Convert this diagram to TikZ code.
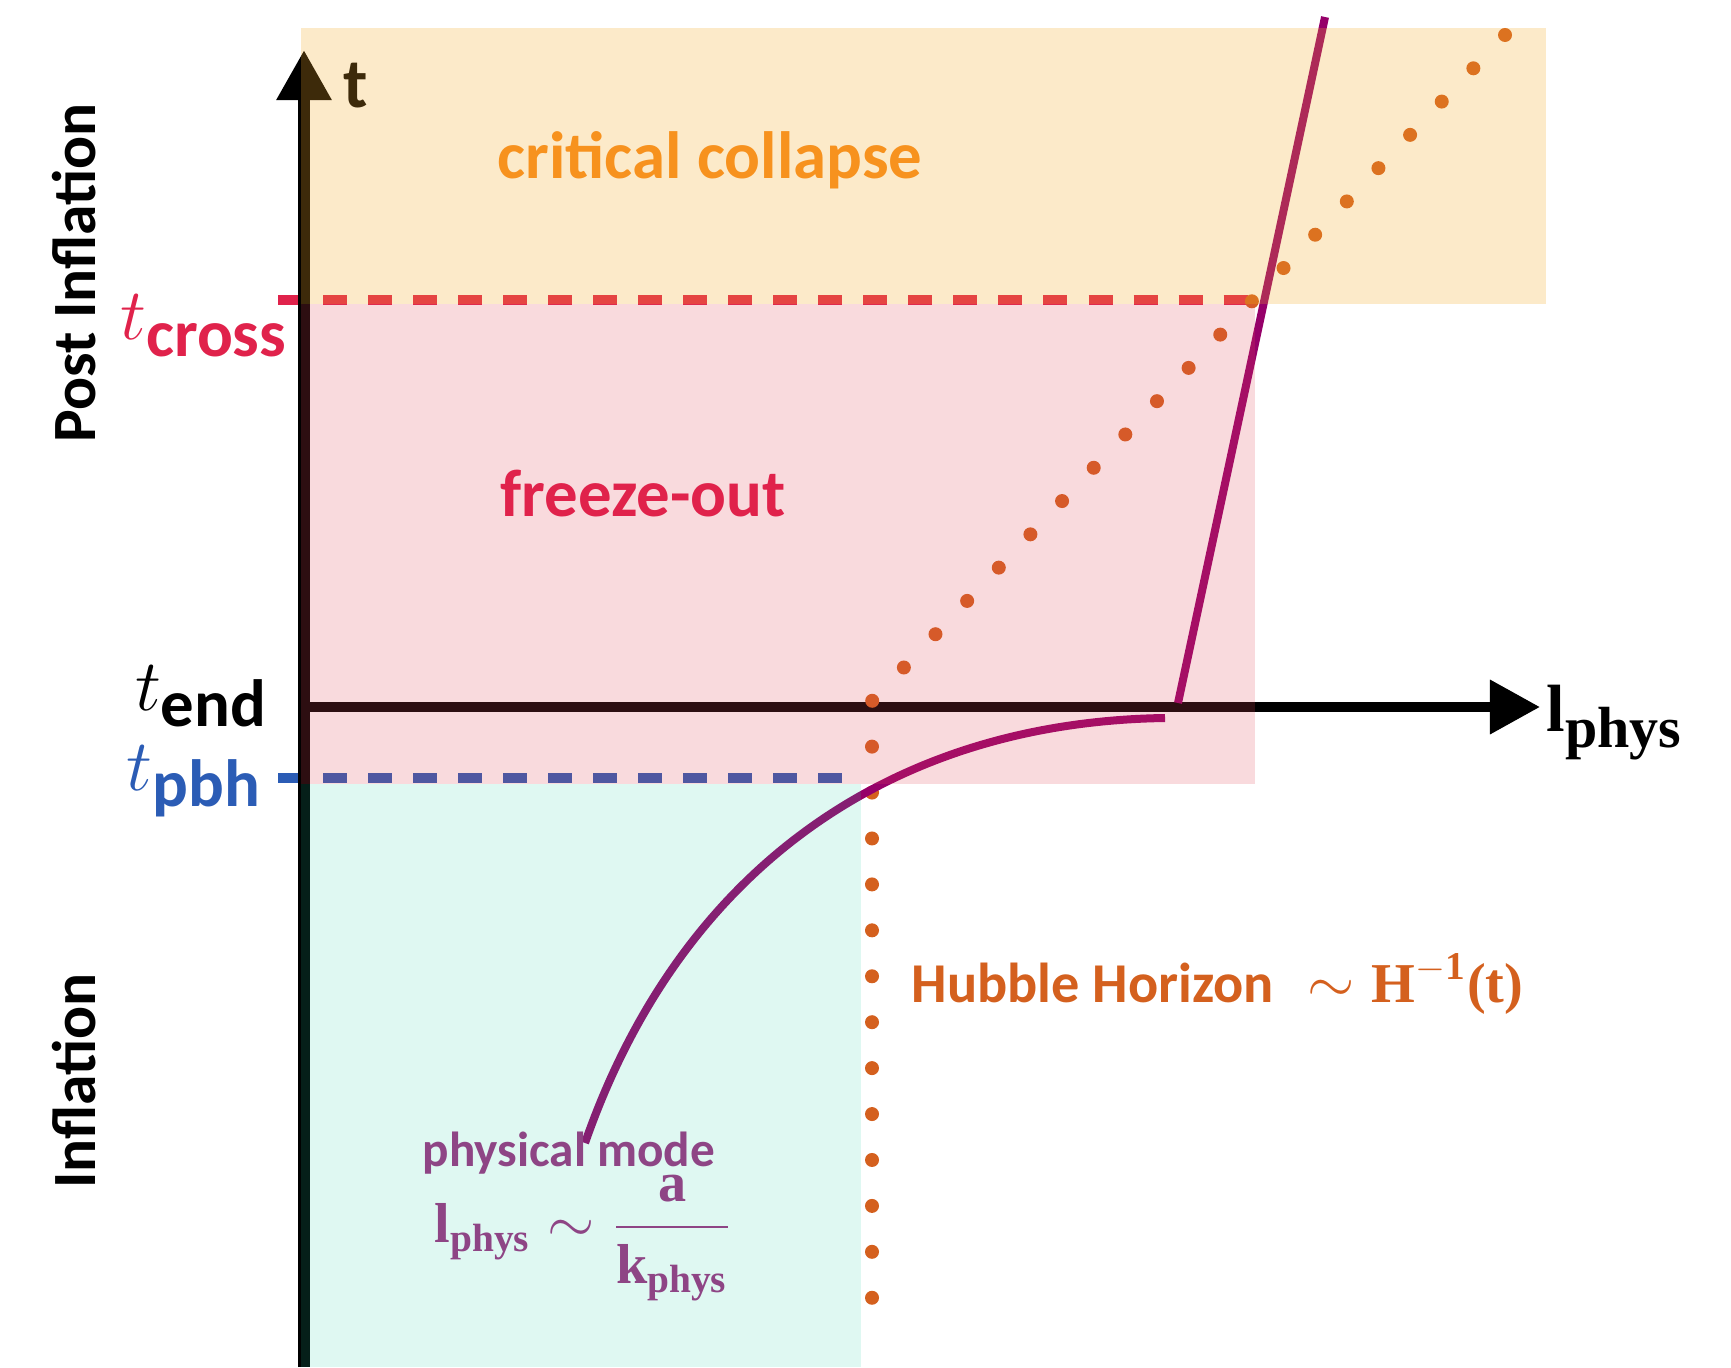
\documentclass[tikz,border=0pt]{standalone}
\usepackage{amsmath}
\usepackage{fontspec}
\setmainfont{Carlito}
\newfontfamily\tnr{Liberation Serif}
\usepackage{tikz}
\usetikzlibrary{arrows.meta}
\usepackage{xcolor}

\definecolor{collapseorange}{RGB}{247,146,30}
\definecolor{freezered}{RGB}{224,34,75}
\definecolor{pbhblue}{RGB}{43,92,181}
\definecolor{modepurple}{RGB}{142,69,133}
\definecolor{curvepurple}{RGB}{150,0,105}
\definecolor{hubbleorange}{RGB}{212,96,30}
\definecolor{bandorange}{RGB}{245,170,40}
\definecolor{bandpink}{RGB}{225,70,85}
\definecolor{bandcyan}{RGB}{40,210,170}

\newcommand{\serb}[1]{\text{\tnr\bfseries #1}}
\newcommand{\tlab}[1]{{\fontsize{21}{24}\selectfont$t$}\raisebox{-0.25em}{#1}}

\begin{document}
\begin{tikzpicture}[
  x=0.01cm, y=-0.01cm,
  font=\bfseries,
  axis/.style={line width=0.12cm, -{Triangle[length=0.5cm,width=0.52cm]}},
  lvl/.style={line width=0.1cm, dash pattern=on 0.24cm off 0.21cm},
  horizon/.style={hubbleorange, line width=0.14cm, line cap=round,
                  dash pattern=on 0pt off 0.459cm},
  mode/.style={curvepurple, line width=0.08cm},
  big/.style={font=\fontsize{19}{22}\selectfont\bfseries},
  side/.style={font=\fontsize{17.5}{20}\selectfont\bfseries, rotate=90, anchor=base},
  tl/.style={big, anchor=base east, inner sep=0pt}
]
\useasboundingbox (0,0) rectangle (1731,1367);

\coordinate (tbot) at (304,1367);
\coordinate (ttop) at (304,50);
\coordinate (origin) at (304,707);
\coordinate (lend) at (1540,707);
\coordinate (crossL) at (278,300);
\coordinate (crossR) at (1256,300);
\coordinate (pbhL) at (278,778);
\coordinate (pbhR) at (861,778);
\coordinate (hubTop) at (1505,35);
\coordinate (hubCorner) at (872,701);
\coordinate (hubBot) at (872,1298);
\coordinate (modeStart) at (585,1143);
\coordinate (modeEnd) at (1165,718);
\coordinate (fastStart) at (1178,703);
\coordinate (fastEnd) at (1325,17);

\draw[lvl, freezered] (crossL) -- (crossR);
\draw[lvl, pbhblue] (pbhL) -- (pbhR);
\draw[axis] (tbot) -- (ttop);
\draw[axis, line width=0.1cm] (origin) -- (lend);
\draw[horizon] (hubTop) -- (hubCorner) -- (hubBot);
\draw[mode] (modeStart) .. controls (680,870) and (890,722) .. (modeEnd);
\draw[mode] (fastStart) -- (fastEnd);
\node[font=\fontsize{20}{24}\selectfont\bfseries, anchor=base west, inner sep=0pt] (tname) at (343,108) {t};

\fill[bandorange, fill opacity=0.25] (301,28) rectangle (1546,304);
\fill[bandpink, fill opacity=0.2] (301,304) rectangle (1255,784);
\fill[bandcyan, fill opacity=0.15] (301,784) rectangle (861,1367);

\node[big, collapseorange, anchor=base] (collapse) at (710,179) {critical collapse};
\node[big, freezered, anchor=base] (freeze) at (643,516) {freeze-out};
\node[side] (post) at (95,273) {Post Inflation};
\node[side] (infl) at (95,1081) {Inflation};

\node[tl, freezered] (tcross) at (287,340) {\tlab{cross}};
\node[tl] (tend) at (267,710) {\tlab{end}};
\node[tl, pbhblue] (tpbh) at (261,790) {\tlab{pbh}};

\node[anchor=base west, inner sep=0pt, font=\tnr\bfseries\fontsize{19}{22}\selectfont] (lname)
  at (1546,731) {l\raisebox{-0.25em}{\fontsize{16.5}{20}\selectfont phys}};
\node[anchor=base west, inner sep=0pt, hubbleorange, font=\fontsize{16}{19}\selectfont\bfseries] (hubble)
  at (911,1002) {Hubble Horizon\hspace{0.6em}$\sim\serb{H}^{-\serb{1}}\serb{(t)}$};
\node[anchor=base, modepurple, font=\fontsize{14}{17}\selectfont\bfseries] (modename)
  at (569,1166) {physical mode};
\node[anchor=west, inner sep=0pt, modepurple, font=\fontsize{16}{19}\selectfont] (modeeq)
  at (434,1238) {$\serb{l}_{\serb{phys}}\sim\dfrac{\serb{a}}{\serb{k}_{\serb{phys}}}$};
\end{tikzpicture}
\end{document}
